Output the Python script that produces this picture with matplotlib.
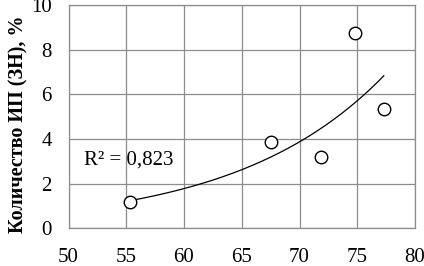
import numpy as np
import matplotlib
matplotlib.use('Agg')
import matplotlib.pyplot as plt

# --- DATA ---
x_vals = [55.3, 67.5, 71.9, 74.8, 77.3]
y_vals = [1.17, 3.86, 3.21, 8.74, 5.35]
r2_text = 'R² = 0,823'
ylabel = 'Количество ИП (ЗН), %'
xticks = [50, 55, 60, 65, 70, 75, 80]
yticks = [0, 2, 4, 6, 8, 10]

plt.rcParams['font.family'] = ['Liberation Serif', 'DejaVu Serif']

fig = plt.figure(figsize=(4.24, 2.66), dpi=100)
ax = fig.add_axes([68.5/424, 1 - 228.3/266, (415 - 68.5)/424, (228.3 - 5)/266])

# exponential trendline (fit on log y)
x = np.array(x_vals)
y = np.array(y_vals)
b, lna = np.polyfit(x, np.log(y), 1)
xt = np.linspace(x.min(), x.max(), 200)
ax.plot(xt, np.exp(lna) * np.exp(b * xt), color='black', lw=0.9, zorder=3)

ax.plot(x, y, ls='none', marker='o', ms=9.0, mfc='white', mec='black', mew=1.0, zorder=4)

ax.text(51.3, 3.06, r2_text, fontsize=15, va='center', ha='left')

ax.set_xlim(50, 80)
ax.set_ylim(0, 10)
ax.set_xticks(xticks)
ax.set_yticks(yticks)
ax.grid(True, color='#8c8c8c', lw=0.9)
ax.set_axisbelow(True)
for s in ax.spines.values():
    s.set_color('#8c8c8c')
    s.set_linewidth(0.9)
ax.tick_params(axis='both', length=0, labelsize=15)
ax.tick_params(axis='x', pad=14.5)
ax.tick_params(axis='y', pad=12)
ax.set_ylabel(ylabel, fontsize=14.5, fontweight='bold')
ax.yaxis.set_label_coords(-0.115, 0.465)

fig.savefig('out.png', dpi=100)
